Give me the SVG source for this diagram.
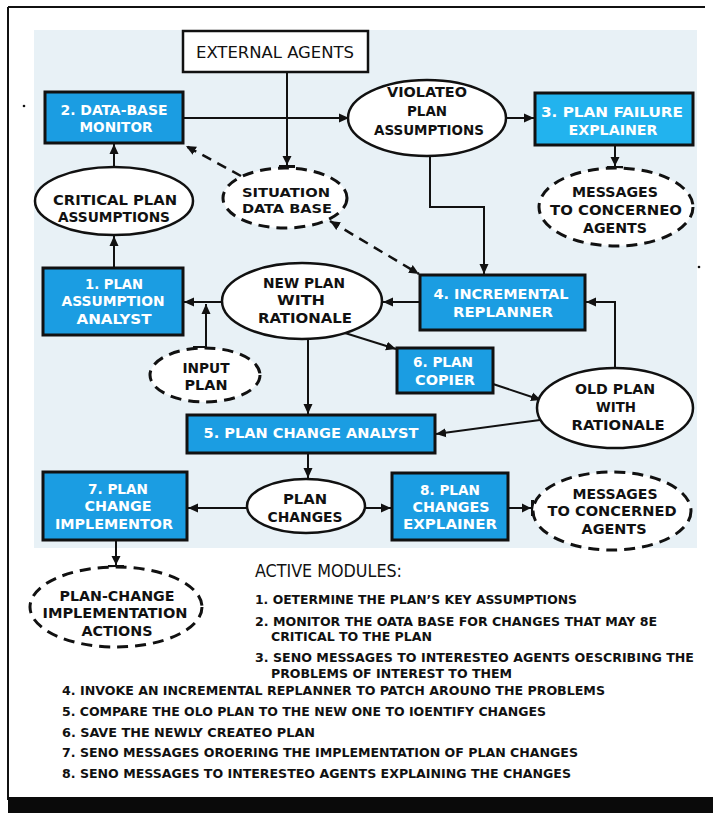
<svg xmlns="http://www.w3.org/2000/svg" width="713" height="813" viewBox="0 0 713 813">
<style>
.box{fill:#1b9de2;stroke:#111;stroke-width:3}
.box2{fill:#22b3ee;stroke:#111;stroke-width:3}
.ell{fill:#fff;stroke:#111;stroke-width:2.5}
.dell{fill:#fff;stroke:#111;stroke-width:3;stroke-dasharray:11 7}
.wt{fill:#fff;font-family:"Liberation Sans Narrow","DejaVu Sans Condensed","Liberation Sans",sans-serif;font-weight:bold;font-size:14px;text-anchor:middle}
.bt{fill:#111;font-family:"Liberation Sans Narrow","DejaVu Sans Condensed","Liberation Sans",sans-serif;font-weight:bold;font-size:14px;text-anchor:middle}
.lt{fill:#111;font-family:"Liberation Sans Narrow","DejaVu Sans Condensed","Liberation Sans",sans-serif;font-weight:bold;font-size:13px}
.con{fill:none;stroke:#111;stroke-width:2}
.dcon{fill:none;stroke:#111;stroke-width:2.5;stroke-dasharray:10 7}
</style>
<defs>
<marker id="arr" markerUnits="userSpaceOnUse" markerWidth="12" markerHeight="10" refX="10" refY="5" orient="auto-start-reverse">
<path d="M0,0.5 L10,5 L0,9.5 z" fill="#111"/>
</marker>
<marker id="tee" markerUnits="userSpaceOnUse" markerWidth="14" markerHeight="18" refX="11" refY="9" orient="auto">
<path d="M0,4.5 L9,9 L0,13.5 z M9,1 L12,1 L12,17 L9,17 z" fill="#111"/>
</marker>
</defs>
<rect x="0" y="0" width="713" height="813" fill="#fff"/>
<rect x="34" y="30" width="663" height="518" fill="#e8f1f6"/>
<line x1="8" y1="7" x2="705" y2="7" stroke="#111" stroke-width="2"/>
<line x1="8" y1="7" x2="8" y2="800" stroke="#111" stroke-width="2"/>
<rect x="8" y="797" width="705" height="16" fill="#0a0a0a"/>
<circle cx="24" cy="106" r="1.3" fill="#111"/>
<circle cx="699" cy="267" r="1.3" fill="#111"/>

<g id="connectors">
<path class="con" d="M287,72 V167" marker-end="url(#tee)"/>
<path class="con" d="M183,118 H349" marker-end="url(#arr)"/>
<path class="dcon" d="M241,176 L186,146" marker-end="url(#arr)"/>
<path class="dcon" d="M330,221 L419,274" marker-start="url(#arr)" marker-end="url(#arr)"/>
<path class="con" d="M114,167 V144" marker-end="url(#arr)"/>
<path class="con" d="M114,268 V236" marker-end="url(#arr)"/>
<path class="con" d="M506,118 H534" marker-end="url(#arr)"/>
<path class="con" d="M430,156 V207 H484 V274" marker-end="url(#arr)"/>
<path class="con" d="M615,145 V168" marker-end="url(#tee)"/>
<path class="con" d="M420,302 H383" marker-end="url(#arr)"/>
<path class="con" d="M223,302 H184" marker-end="url(#arr)"/>
<path class="con" d="M193,347 H206 V304" marker-end="url(#arr)"/>
<path class="con" d="M345,333 L396,349" marker-end="url(#arr)"/>
<path class="con" d="M308,339 V414" marker-end="url(#arr)"/>
<path class="con" d="M493,384 L541,400" marker-end="url(#arr)"/>
<path class="con" d="M615,368 V302 H586" marker-end="url(#arr)"/>
<path class="con" d="M540,420 L436,434" marker-end="url(#arr)"/>
<path class="con" d="M308,453 V478" marker-end="url(#arr)"/>
<path class="con" d="M247,508 H188" marker-end="url(#arr)"/>
<path class="con" d="M365,508 H391" marker-end="url(#arr)"/>
<path class="con" d="M508,508 H533" marker-end="url(#tee)"/>
<path class="con" d="M116,540 V567" marker-end="url(#tee)"/>
</g>

<g id="external-agents">
<rect x="183" y="31" width="185" height="41" fill="#fff" stroke="#111" stroke-width="2.5"/>
<text x="275" y="58" class="bt" style="font-weight:normal;font-size:16px" textLength="158" lengthAdjust="spacingAndGlyphs">EXTERNAL AGENTS</text>
</g>

<g id="data-base-monitor">
<rect class="box" x="45" y="92" width="138" height="51"/>
<text class="wt" x="114" y="115" textLength="107" lengthAdjust="spacingAndGlyphs">2. DATA-BASE</text>
<text class="wt" x="116" y="132" textLength="73" lengthAdjust="spacingAndGlyphs">MONITOR</text>
</g>

<g id="violated-plan-assumptions">
<ellipse class="ell" cx="427" cy="118" rx="79" ry="38"/>
<text class="bt" x="427" y="97" textLength="80" lengthAdjust="spacingAndGlyphs">VIOLATEO</text>
<text class="bt" x="427" y="116" textLength="40" lengthAdjust="spacingAndGlyphs">PLAN</text>
<text class="bt" x="429" y="135" textLength="110" lengthAdjust="spacingAndGlyphs">ASSUMPTIONS</text>
</g>

<g id="plan-failure-explainer">
<rect class="box2" x="535" y="93" width="158" height="52"/>
<text class="wt" x="612" y="117" textLength="142" lengthAdjust="spacingAndGlyphs">3. PLAN FAILURE</text>
<text class="wt" x="613" y="135" textLength="89" lengthAdjust="spacingAndGlyphs">EXPLAINER</text>
</g>

<g id="messages-1">
<ellipse class="dell" cx="616" cy="207" rx="77" ry="39"/>
<text class="bt" x="615" y="197" textLength="86" lengthAdjust="spacingAndGlyphs">MESSAGES</text>
<text class="bt" x="616" y="215" textLength="132" lengthAdjust="spacingAndGlyphs">TO CONCERNEO</text>
<text class="bt" x="615" y="233" textLength="64" lengthAdjust="spacingAndGlyphs">AGENTS</text>
</g>

<g id="situation-data-base">
<ellipse class="dell" cx="285" cy="198" rx="62" ry="30"/>
<text class="bt" x="286" y="197" style="font-size:13px" textLength="88" lengthAdjust="spacingAndGlyphs">SITUATION</text>
<text class="bt" x="287" y="213" style="font-size:13px" textLength="90" lengthAdjust="spacingAndGlyphs">DATA BASE</text>
</g>

<g id="critical-plan-assumptions">
<ellipse class="ell" cx="114" cy="201" rx="79" ry="34"/>
<text class="bt" x="115" y="205" textLength="124" lengthAdjust="spacingAndGlyphs">CRITICAL PLAN</text>
<text class="bt" x="114" y="222" textLength="112" lengthAdjust="spacingAndGlyphs">ASSUMPTIONS</text>
</g>

<g id="plan-assumption-analyst">
<rect class="box" x="43" y="268" width="140" height="67"/>
<text class="wt" x="114" y="289" textLength="58" lengthAdjust="spacingAndGlyphs">1. PLAN</text>
<text class="wt" x="113" y="306" textLength="103" lengthAdjust="spacingAndGlyphs">ASSUMPTION</text>
<text class="wt" x="114" y="324" textLength="75" lengthAdjust="spacingAndGlyphs">ANALYST</text>
</g>

<g id="new-plan-with-rationale">
<ellipse class="ell" cx="302" cy="301" rx="80" ry="38"/>
<text class="bt" x="304" y="288" textLength="82" lengthAdjust="spacingAndGlyphs">NEW PLAN</text>
<text class="bt" x="301" y="305" textLength="48" lengthAdjust="spacingAndGlyphs">WITH</text>
<text class="bt" x="305" y="323" textLength="94" lengthAdjust="spacingAndGlyphs">RATIONALE</text>
</g>

<g id="incremental-replanner">
<rect class="box" x="420" y="275" width="165" height="55"/>
<text class="wt" x="501" y="299" textLength="135" lengthAdjust="spacingAndGlyphs">4. INCREMENTAL</text>
<text class="wt" x="503" y="317" textLength="100" lengthAdjust="spacingAndGlyphs">REPLANNER</text>
</g>

<g id="input-plan">
<ellipse class="dell" cx="205" cy="375" rx="55" ry="27"/>
<text class="bt" x="206" y="373" textLength="47" lengthAdjust="spacingAndGlyphs">INPUT</text>
<text class="bt" x="206" y="390" textLength="43" lengthAdjust="spacingAndGlyphs">PLAN</text>
</g>

<g id="plan-copier">
<rect class="box" x="397" y="348" width="96" height="45"/>
<text class="wt" x="443" y="367" textLength="60" lengthAdjust="spacingAndGlyphs">6. PLAN</text>
<text class="wt" x="445" y="385" textLength="60" lengthAdjust="spacingAndGlyphs">COPIER</text>
</g>

<g id="old-plan-with-rationale">
<ellipse class="ell" cx="615" cy="408" rx="78" ry="40"/>
<text class="bt" x="615" y="394" textLength="80" lengthAdjust="spacingAndGlyphs">OLD PLAN</text>
<text class="bt" x="616" y="412" textLength="40" lengthAdjust="spacingAndGlyphs">WITH</text>
<text class="bt" x="618" y="430" textLength="93" lengthAdjust="spacingAndGlyphs">RATIONALE</text>
</g>

<g id="plan-change-analyst">
<rect class="box" x="187" y="415" width="248" height="38"/>
<text class="wt" x="311" y="438" textLength="215" lengthAdjust="spacingAndGlyphs">5. PLAN CHANGE ANALYST</text>
</g>

<g id="plan-change-implementor">
<rect class="box" x="43" y="472" width="144" height="68"/>
<text class="wt" x="118" y="494" textLength="60" lengthAdjust="spacingAndGlyphs">7. PLAN</text>
<text class="wt" x="118" y="511" textLength="67" lengthAdjust="spacingAndGlyphs">CHANGE</text>
<text class="wt" x="114" y="529" textLength="118" lengthAdjust="spacingAndGlyphs">IMPLEMENTOR</text>
</g>

<g id="plan-changes">
<ellipse class="ell" cx="306" cy="506" rx="59" ry="27"/>
<text class="bt" x="305" y="504" textLength="44" lengthAdjust="spacingAndGlyphs">PLAN</text>
<text class="bt" x="305" y="522" textLength="75" lengthAdjust="spacingAndGlyphs">CHANGES</text>
</g>

<g id="plan-changes-explainer">
<rect class="box" x="392" y="473" width="116" height="67"/>
<text class="wt" x="450" y="495" textLength="60" lengthAdjust="spacingAndGlyphs">8. PLAN</text>
<text class="wt" x="451" y="512" textLength="77" lengthAdjust="spacingAndGlyphs">CHANGES</text>
<text class="wt" x="450" y="529" textLength="94" lengthAdjust="spacingAndGlyphs">EXPLAINER</text>
</g>

<g id="messages-2">
<ellipse class="dell" cx="612" cy="511" rx="79" ry="39"/>
<text class="bt" x="615" y="499" textLength="85" lengthAdjust="spacingAndGlyphs">MESSAGES</text>
<text class="bt" x="612" y="516" textLength="129" lengthAdjust="spacingAndGlyphs">TO CONCERNED</text>
<text class="bt" x="614" y="534" textLength="65" lengthAdjust="spacingAndGlyphs">AGENTS</text>
</g>

<g id="plan-change-implementation-actions">
<ellipse class="dell" cx="116" cy="607" rx="86" ry="40"/>
<text class="bt" x="117" y="601" textLength="115" lengthAdjust="spacingAndGlyphs">PLAN-CHANGE</text>
<text class="bt" x="115" y="618" textLength="145" lengthAdjust="spacingAndGlyphs">IMPLEMENTATION</text>
<text class="bt" x="117" y="636" textLength="71" lengthAdjust="spacingAndGlyphs">ACTIONS</text>
</g>

<g id="legend">
<text x="255" y="577" style="fill:#111;font-family:'Liberation Sans Narrow','DejaVu Sans Condensed','Liberation Sans',sans-serif;font-size:17px" textLength="147" lengthAdjust="spacingAndGlyphs">ACTIVE MODULES:</text>
<text class="lt" x="255" y="604" textLength="322" lengthAdjust="spacingAndGlyphs">1. OETERMINE THE PLAN’S KEY ASSUMPTIONS</text>
<text class="lt" x="255" y="626" textLength="402" lengthAdjust="spacingAndGlyphs">2. MONITOR THE OATA BASE FOR CHANGES THAT MAY 8E</text>
<text class="lt" x="271" y="641" textLength="161" lengthAdjust="spacingAndGlyphs">CRITICAL TO THE PLAN</text>
<text class="lt" x="255" y="662" textLength="439" lengthAdjust="spacingAndGlyphs">3. SENO MESSAGES TO INTERESTEO AGENTS OESCRIBING THE</text>
<text class="lt" x="271" y="678" textLength="241" lengthAdjust="spacingAndGlyphs">PROBLEMS OF INTEREST TO THEM</text>
<text class="lt" x="62" y="695" textLength="543" lengthAdjust="spacingAndGlyphs">4. INVOKE AN INCREMENTAL REPLANNER TO PATCH AROUNO THE PROBLEMS</text>
<text class="lt" x="62" y="716" textLength="484" lengthAdjust="spacingAndGlyphs">5. COMPARE THE OLO PLAN TO THE NEW ONE TO IOENTIFY CHANGES</text>
<text class="lt" x="62" y="737" textLength="253" lengthAdjust="spacingAndGlyphs">6. SAVE THE NEWLY CREATEO PLAN</text>
<text class="lt" x="62" y="757" textLength="516" lengthAdjust="spacingAndGlyphs">7. SENO MESSAGES OROERING THE IMPLEMENTATION OF PLAN CHANGES</text>
<text class="lt" x="62" y="778" textLength="509" lengthAdjust="spacingAndGlyphs">8. SENO MESSAGES TO INTERESTEO AGENTS EXPLAINING THE CHANGES</text>
</g>
</svg>
